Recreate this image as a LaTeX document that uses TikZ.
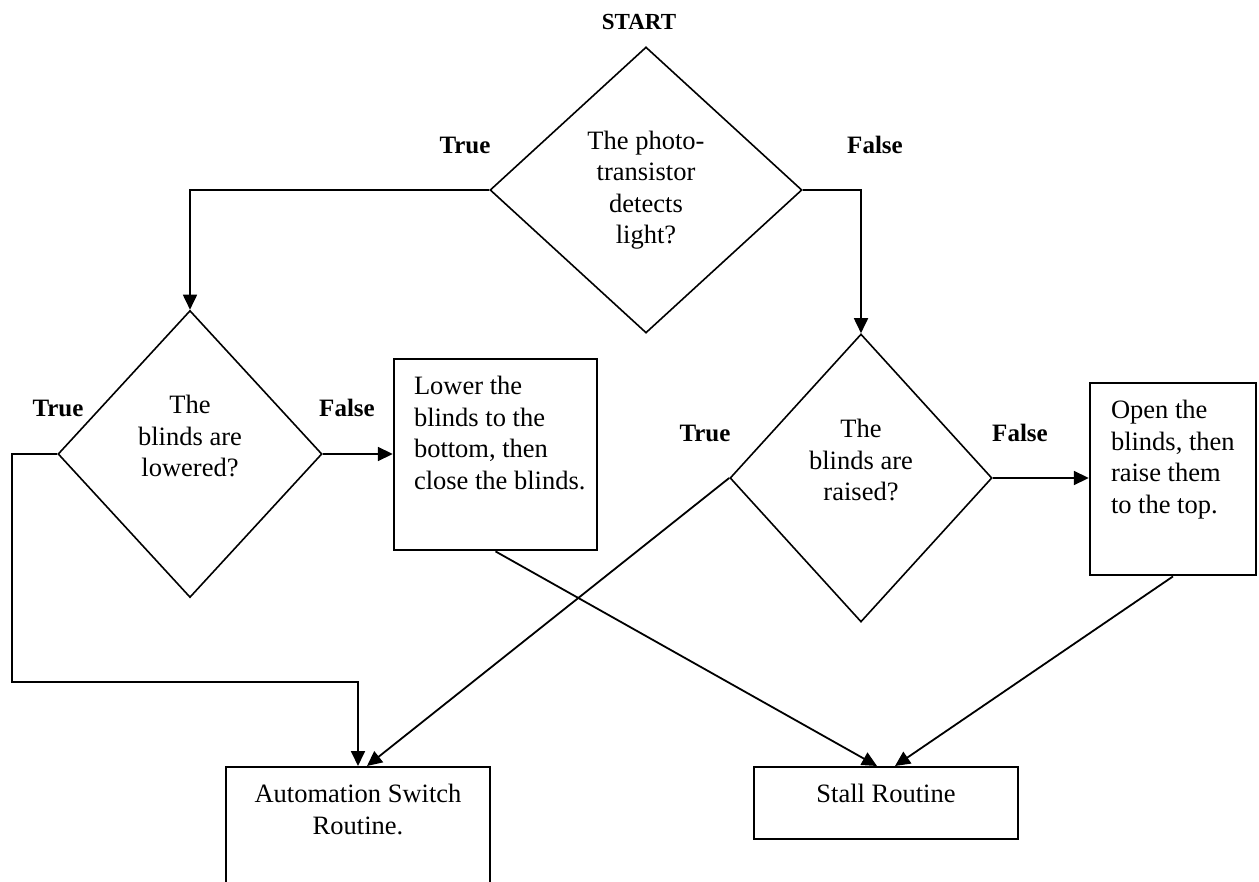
\documentclass[tikz,border=0pt]{standalone}
\usepackage{fontspec}
\setmainfont{Liberation Serif}
\usepackage{tikz}
\usetikzlibrary{arrows.meta,positioning,shapes.geometric}
\newcommand{\flowfont}{\fontsize{13.25pt}{15.75pt}\selectfont}
\newcommand{\tffont}{\fontsize{12.5pt}{15pt}\selectfont\bfseries}
\newcommand{\boxtext}[4]{\parbox[t][#2][t]{#1}{#3#4}}

\begin{document}
\begin{tikzpicture}[
  x=0.5pt,y=-0.5pt,
  >={Triangle[length=7.5pt,width=7pt]},
  dec/.style={draw,diamond,line width=0.8pt,inner sep=0pt,align=center,font=\flowfont},
  qtext/.style={align=center,inner sep=0pt,font=\flowfont},
  proc/.style={draw,line width=1.2pt,anchor=north,inner xsep=0pt,inner ysep=8.5pt,font=\flowfont},
  tf/.style={inner sep=0pt,font=\tffont},
  edge/.style={->,line width=0.9pt}
]
\useasboundingbox (0,0) rectangle (1259,882);
\node[dec,minimum width=156pt,minimum height=143pt] (d0) at (646,190) {The photo-\\transistor\\detects\\light?};
\node[tf,font=\fontsize{11.5pt}{14pt}\selectfont\bfseries,above=8pt of d0,xshift=-3.5pt] (st) {START};
\node[dec,minimum width=132pt,minimum height=143.5pt] (d1) at (190,454) {};
\node[qtext] (d1q) at ([yshift=9pt]d1.center) {The\\blinds are\\lowered?};
\node[dec,minimum width=131pt,minimum height=144pt] (d2) at (861,478) {};
\node[qtext] (d2q) at ([yshift=9pt]d2.center) {The\\blinds are\\raised?};
\node[proc] (b1) at (495.5,358) {\boxtext{101.5pt}{78.5pt}{\raggedright\leftskip=10pt}{Lower the\\blinds to the\\bottom, then\\close the blinds.}};
\node[proc] (b2) at (1173,382) {\boxtext{83pt}{79pt}{\raggedright\leftskip=10.5pt}{Open the\\blinds, then\\raise them\\to the top.}};
\node[proc] (auto) at (358,766) {\boxtext{132pt}{50pt}{\centering}{Automation Switch\\Routine.}};
\node[proc] (stall) at (886,766) {\boxtext{132pt}{19pt}{\centering}{Stall Routine}};
\node[tf] (t0) at (465,145) {True};
\node[tf] (f0) at (875,145) {False};
\node[tf] (t1) at (58,408) {True};
\node[tf] (f1) at (347,408) {False};
\node[tf] (t2) at (705,433) {True};
\node[tf] (f2) at (1020,433) {False};
\coordinate (lt) at (12,682);
\draw[edge] (d0.west) -| (d1.north);
\draw[edge] (d0.east) -| (d2.north);
\draw[edge] (d1.east) -- (d1.east -| b1.west);
\draw[edge] (d2.east) -- (d2.east -| b2.west);
\draw[edge] (d1.west) -| (lt) -| (auto.north);
\draw[edge] (d2.west) -- ([xshift=4.5pt]auto.north);
\draw[edge] (b1.south) -- ([xshift=-4.5pt]stall.north);
\draw[edge] (b2.south) -- ([xshift=4.5pt]stall.north);
\end{tikzpicture}
\end{document}
